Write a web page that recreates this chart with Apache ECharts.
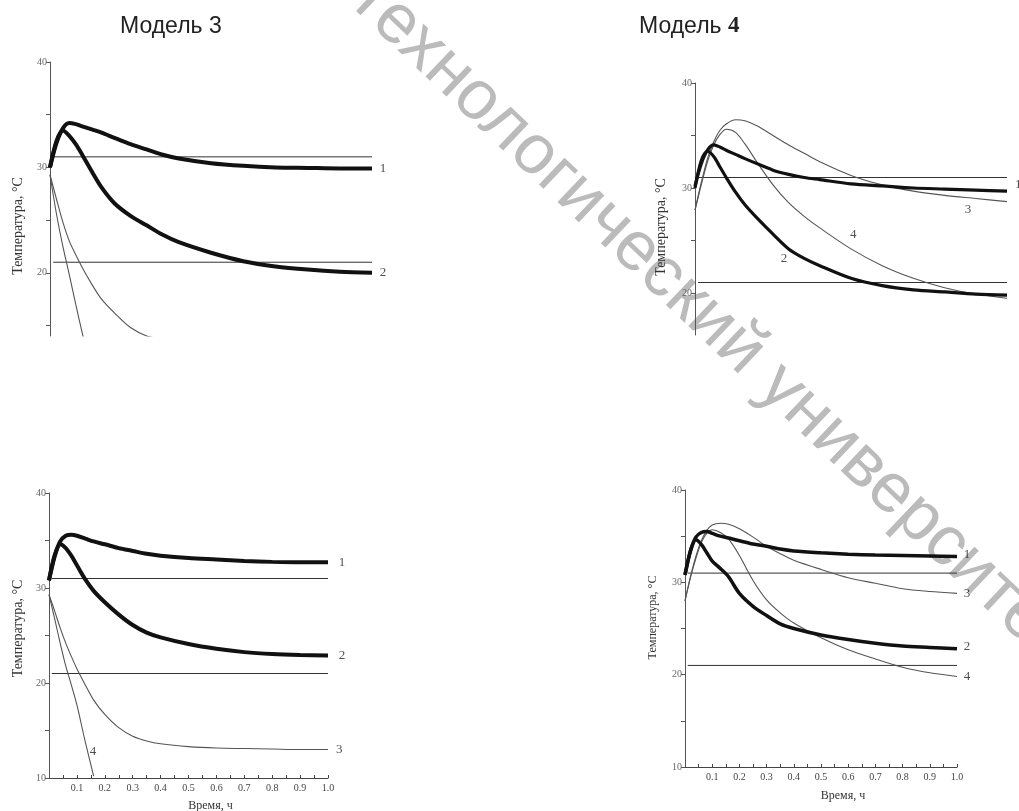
<!DOCTYPE html>
<html>
<head>
<meta charset="utf-8">
<title>Модель 3 / Модель 4</title>
<script src="https://cdn.jsdelivr.net/npm/echarts@6/dist/echarts.min.js"></script>
<style>
  html, body { margin: 0; background: #fff; }
  #main { width: 1019px; height: 811px; }
</style>
</head>
<body>
<div id="main"></div>
<script>
// время, ч (общая сетка для всех кривых)
var time = [0, 0.02, 0.04, 0.06, 0.08, 0.1, 0.13, 0.16, 0.2, 0.25, 0.3, 0.35, 0.4, 0.5, 0.6, 0.7, 0.8, 0.9, 1.0];

// Модель 3, верхний график
var m3TopCurve1 = [30.0, 32.3, 33.7, 34.2, 34.1, 33.9, 33.6, 33.3, 32.8, 32.2, 31.7, 31.2, 30.85, 30.4, 30.15, 30.0, 29.95, 29.9, 29.9];
var m3TopCurve2 = [30.0, 32.5, 33.5, 33.0, 32.2, 31.2, 29.6, 28.1, 26.6, 25.4, 24.5, 23.6, 22.9, 21.9, 21.1, 20.6, 20.3, 20.1, 20.0];
var m3TopCurve3 = [29.3, 27.0, 24.8, 23.0, 21.7, 20.5, 18.9, 17.5, 16.2, 14.8, 14.0, 13.7, 13.4, 13.1, 12.9, 12.8, 12.8, 12.8, 12.8];
var m3TopCurve4 = [29.3, 25.6, 22.5, 19.8, 17.0, 14.3, 10.5, null, null, null, null, null, null, null, null, null, null, null, null];
var m3TopMarks = [[1.034, 29.9, '1'], [1.034, 20.0, '2']];

// Модель 4, верхний график
var m4TopCurve1 = [30.2, 32.3, 33.6, 34.1, 33.9, 33.6, 33.2, 32.8, 32.3, 31.7, 31.3, 31.0, 30.8, 30.4, 30.2, 30.0, 29.9, 29.8, 29.7];
var m4TopCurve2 = [30.0, 32.6, 33.5, 33.0, 32.0, 31.0, 29.6, 28.4, 27.1, 25.6, 24.2, 23.3, 22.6, 21.4, 20.7, 20.3, 20.1, 19.9, 19.8];
var m4TopCurve3 = [27.9, 30.5, 32.8, 34.4, 35.5, 36.1, 36.5, 36.4, 35.9, 35.0, 34.1, 33.3, 32.5, 31.2, 30.3, 29.7, 29.3, 29.0, 28.7];
var m4TopCurve4 = [27.9, 30.3, 32.5, 34.1, 35.1, 35.6, 35.3, 34.2, 32.4, 30.3, 28.6, 27.3, 26.2, 24.2, 22.6, 21.4, 20.5, 19.9, 19.5];
var m4TopMarks = [[1.036, 30.3, '1'], [0.875, 27.9, '3'], [0.507, 25.6, '4'], [0.285, 23.3, '2']];

// Модель 3, нижний график
var m3BotCurve1 = [30.8, 33.3, 34.9, 35.5, 35.6, 35.5, 35.2, 34.9, 34.6, 34.2, 33.9, 33.6, 33.4, 33.15, 33.0, 32.85, 32.75, 32.7, 32.7];
var m3BotCurve2 = [30.8, 33.4, 34.6, 34.2, 33.4, 32.4, 30.9, 29.7, 28.5, 27.2, 26.1, 25.3, 24.8, 24.1, 23.6, 23.25, 23.05, 22.95, 22.9];
var m3BotCurve3 = [29.3, 27.6, 25.8, 24.2, 22.8, 21.5, 19.8, 18.2, 16.7, 15.3, 14.4, 13.9, 13.6, 13.3, 13.15, 13.1, 13.05, 13.0, 13.0];
var m3BotCurve4 = [29.3, 26.8, 24.2, 21.8, 19.8, 17.7, 13.8, 10.2, null, null, null, null, null, null, null, null, null, null, null];
var m3BotMarks = [[1.05, 32.7, '1'], [1.05, 22.9, '2'], [1.04, 13.0, '3'], [0.158, 12.8, '4']];

// Модель 4, нижний график
var m4BotCurve1 = [30.8, 33.4, 34.9, 35.4, 35.5, 35.3, 35.0, 34.8, 34.5, 34.15, 33.9, 33.6, 33.4, 33.2, 33.05, 32.95, 32.9, 32.85, 32.8];
var m4BotCurve2 = [30.8, 33.4, 34.6, 34.1, 33.2, 32.3, 31.5, 30.6, 28.8, 27.4, 26.4, 25.5, 25.0, 24.3, 23.8, 23.4, 23.1, 22.95, 22.8];
var m4BotCurve3 = [28.0, 30.6, 32.8, 34.5, 35.6, 36.2, 36.4, 36.3, 35.8, 34.9, 33.9, 33.1, 32.4, 31.4, 30.5, 29.9, 29.3, 29.0, 28.8];
var m4BotCurve4 = [28.0, 30.5, 32.6, 34.3, 35.3, 35.7, 35.4, 34.7, 32.9, 30.2, 28.1, 26.7, 25.6, 24.0, 22.7, 21.7, 20.8, 20.2, 19.8];
var m4BotMarks = [[1.037, 33.0, '1'], [1.037, 28.8, '3'], [1.037, 23.0, '2'], [1.037, 19.8, '4']];

// горизонтальные уровни, °C
var refLevels = [31, 21];

// подписи осей
var timeLabels = [0.1, 0.2, 0.3, 0.4, 0.5, 0.6, 0.7, 0.8, 0.9, 1.0];
var timeTicks = [0.05, 0.1, 0.15, 0.2, 0.25, 0.3, 0.35, 0.4, 0.45, 0.5, 0.55, 0.6, 0.65, 0.7, 0.75, 0.8, 0.85, 0.9, 0.95, 1.0];
var tempLabels = [10, 20, 30, 40];
var tempTicks = [10, 15, 20, 25, 30, 35, 40];

var serif = 'Liberation Serif';

var panels = [
  { grid: { left: 50, top: 62, width: 322, height: 274 }, min: 14, xAxis: false,
    curves: [m3TopCurve1, m3TopCurve2, m3TopCurve3, m3TopCurve4], marks: m3TopMarks,
    thick: 4, nameSize: 14, namePad: [0, 54, 0, 0], yGap: 25 },
  { grid: { left: 695, top: 83, width: 312, height: 252 }, min: 16, xAxis: false,
    curves: [m4TopCurve1, m4TopCurve2, m4TopCurve3, m4TopCurve4], marks: m4TopMarks,
    thick: 3.2, nameSize: 14, namePad: [0, 36, 0, 0], yGap: 27 },
  { grid: { left: 49, top: 493, width: 279, height: 285 }, min: 10, xAxis: true,
    curves: [m3BotCurve1, m3BotCurve2, m3BotCurve3, m3BotCurve4], marks: m3BotMarks,
    thick: 4, nameSize: 14, namePad: [0, 0, 0, 14], yGap: 24, xGap: 22 },
  { grid: { left: 685, top: 490, width: 272, height: 277 }, min: 10, xAxis: true,
    curves: [m4BotCurve1, m4BotCurve2, m4BotCurve3, m4BotCurve4], marks: m4BotMarks,
    thick: 3.5, nameSize: 12, namePad: [0, 0, 0, 22], yGap: 26, xGap: 23 }
];

var grids = [], xAxes = [], yAxes = [], series = [];

panels.forEach(function (p, i) {
  grids.push(Object.assign({ containLabel: false, outerBoundsMode: 'none' }, p.grid));

  xAxes.push({
    gridIndex: i, type: 'value', min: 0, max: 1, show: p.xAxis,
    name: 'Время, ч', nameLocation: 'middle', nameGap: p.xGap || 22,
    nameTextStyle: { fontFamily: serif, fontSize: 12, color: '#333', padding: [0, 0, 0, 44] },
    axisLine: { lineStyle: { color: '#444', width: 1 } },
    axisTick: { inside: true, length: 3, customValues: timeTicks, lineStyle: { color: '#444' } },
    axisLabel: { customValues: timeLabels, fontFamily: serif, fontSize: 10, color: '#444', margin: 5,
      formatter: function (v) { return v.toFixed(1); } },
    splitLine: { show: false }
  });

  yAxes.push({
    gridIndex: i, type: 'value', min: p.min, max: 40,
    name: 'Температура, °C', nameLocation: 'middle', nameGap: p.yGap, nameRotate: 90,
    nameTextStyle: { fontFamily: serif, fontSize: p.nameSize, color: '#333', padding: p.namePad },
    axisLine: { show: true, lineStyle: { color: '#555', width: 1 } },
    axisTick: { show: true, length: 4, customValues: tempTicks.filter(function (v) { return v >= p.min; }),
      lineStyle: { color: '#555' } },
    axisLabel: { customValues: tempLabels.filter(function (v) { return v >= p.min; }),
      fontFamily: serif, fontSize: 10, color: '#666', margin: 3 },
    splitLine: { show: false }
  });

  // опорные уровни
  refLevels.forEach(function (lv) {
    series.push({
      type: 'line', xAxisIndex: i, yAxisIndex: i, symbol: 'none', silent: true,
      data: [[0.01, lv], [1, lv]],
      lineStyle: { color: '#333', width: 1 }
    });
  });

  p.curves.forEach(function (c, k) {
    var heavy = k < 2;
    series.push({
      type: 'line', xAxisIndex: i, yAxisIndex: i, symbol: 'none', silent: true,
      smooth: 0.3, clip: true, z: heavy ? 4 : 3,
      data: time.map(function (t, j) { return [t, c[j]]; }),
      lineStyle: { color: heavy ? '#111' : '#555', width: heavy ? p.thick : 1.1 }
    });
  });

  series.push({
    type: 'scatter', xAxisIndex: i, yAxisIndex: i, symbolSize: 0, clip: false, silent: true,
    data: p.marks,
    label: { show: true, position: 'inside', fontFamily: serif, fontSize: 13, color: '#222',
      formatter: function (d) { return d.value[2]; } }
  });
});

var chart = echarts.init(document.getElementById('main'), null, { renderer: 'canvas' });
chart.setOption({
  backgroundColor: '#fff',
  animation: false,
  title: [
    { text: 'Модель 3', left: 115, top: 10,
      textStyle: { fontFamily: 'Liberation Sans', fontSize: 23, fontWeight: 'normal', color: '#222' } },
    { text: '{a|Модель }{b|4}', left: 634, top: 10,
      textStyle: { fontWeight: 'normal', rich: {
        a: { fontFamily: 'Liberation Sans', fontSize: 23, fontWeight: 'normal', color: '#222' },
        b: { fontFamily: serif, fontSize: 23, fontWeight: 'bold', color: '#222' }
      } } }
  ],
  graphic: [{
    type: 'text', x: 360, y: -12, rotation: -43.5 * Math.PI / 180, silent: true,
    style: { text: 'технологический университет', fontFamily: 'Liberation Sans', fontSize: 70,
      fill: '#bbbbbb', align: 'left', verticalAlign: 'middle' }
  }],
  grid: grids,
  xAxis: xAxes,
  yAxis: yAxes,
  series: series
});
</script>
</body>
</html>
